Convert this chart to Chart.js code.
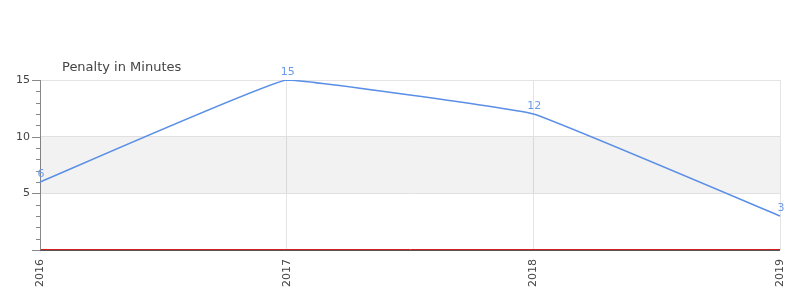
<!DOCTYPE html>
<html>
<head>
<meta charset="utf-8">
<script src="https://cdn.jsdelivr.net/npm/chart.js@4/dist/chart.umd.min.js"></script>
<style>
  html, body { margin: 0; padding: 0; background: #fff; }
  #wrap { width: 800px; height: 300px; }
</style>
</head>
<body>
<div id="wrap"><canvas id="myChart" width="800" height="300"></canvas></div>
<script>
const years = ["2016", "2017", "2018", "2019"];
const penalty = [6, 15, 12, 3];
const yTicks = [5, 10, 15];
const band = [5, 10];

const FONT = "'DejaVu Sans', sans-serif";
const LINE_COLOR = "#5b8fe6";

// grey band, minor ticks, zero line, value labels, title
const extras = {
  id: "extras",
  beforeDatasetsDraw(chart) {
    const { ctx, chartArea, scales } = chart;
    const y = scales.y;
    ctx.save();
    ctx.fillStyle = "rgba(0,0,0,0.05)";
    const top = y.getPixelForValue(band[1]);
    const bot = y.getPixelForValue(band[0]);
    ctx.fillRect(chartArea.left, top, chartArea.right - chartArea.left, bot - top);
    ctx.restore();
  },
  afterDraw(chart) {
    const { ctx, chartArea, scales } = chart;
    const y = scales.y;
    ctx.save();
    // ticks on y axis
    ctx.strokeStyle = "#888";
    ctx.lineWidth = 1;
    for (let v = 0; v <= 15; v++) {
      const py = Math.round(y.getPixelForValue(v)) + 0.5;
      const len = v % 5 === 0 ? 8 : 4;
      ctx.beginPath();
      ctx.moveTo(chartArea.left - len, py);
      ctx.lineTo(chartArea.left, py);
      ctx.stroke();
    }
    // zero line
    const z = Math.round(y.getPixelForValue(0));
    ctx.strokeStyle = "#555";
    ctx.beginPath();
    ctx.moveTo(chartArea.left, z + 0.5);
    ctx.lineTo(chartArea.right, z + 0.5);
    ctx.stroke();
    ctx.strokeStyle = "#d62020";
    ctx.beginPath();
    ctx.moveTo(chartArea.left + 1, z - 0.5);
    ctx.lineTo(chartArea.right, z - 0.5);
    ctx.stroke();
    // value labels
    const meta = chart.getDatasetMeta(0);
    ctx.fillStyle = "#6a9ae8";
    ctx.font = "11px " + FONT;
    ctx.textAlign = "center";
    ctx.textBaseline = "bottom";
    meta.data.forEach((pt, i) => {
      ctx.fillText(String(penalty[i]), pt.x + 1, pt.y - 2);
    });
    // title
    ctx.fillStyle = "#444";
    ctx.font = "13px " + FONT;
    ctx.textAlign = "left";
    ctx.textBaseline = "alphabetic";
    ctx.fillText("Penalty in Minutes", 62, 71);
    ctx.restore();
  },
};

const config = {
  type: "line",
  data: {
    labels: years,
    datasets: [
      {
        label: "Penalty in Minutes",
        data: penalty,
        borderColor: LINE_COLOR,
        borderWidth: 1.5,
        pointRadius: 0,
        fill: false,
        tension: 0.08,
      },
    ],
  },
  options: {
    responsive: false,
    animation: false,
    layout: { padding: { top: 80, right: 20, left: 0, bottom: 0 } },
    plugins: {
      legend: { display: false },
      title: { display: false },
      tooltip: { enabled: false },
    },
    scales: {
      x: {
        offset: false,
        grid: { color: "#e4e4e4", drawTicks: false },
        border: { display: false },
        ticks: {
          maxRotation: 90,
          minRotation: 90,
          padding: 9,
          color: "#444",
          font: { family: FONT, size: 11 },
        },
        afterFit(scale) {
          scale.height = 50;
          scale.paddingLeft = 0;
          scale.paddingRight = 0;
        },
      },
      y: {
        min: 0,
        max: 15,
        afterBuildTicks(scale) {
          scale.ticks = yTicks.map((v) => ({ value: v }));
        },
        grid: { color: "#e4e4e4", drawTicks: false },
        border: { display: true, color: "#888" },
        ticks: {
          padding: 10,
          color: "#444",
          font: { family: FONT, size: 11 },
        },
        afterFit(scale) {
          scale.width = 40;
          scale.paddingTop = 0;
          scale.paddingBottom = 0;
        },
      },
    },
  },
  plugins: [extras],
};

new Chart(document.getElementById("myChart").getContext("2d"), config);
</script>
</body>
</html>
